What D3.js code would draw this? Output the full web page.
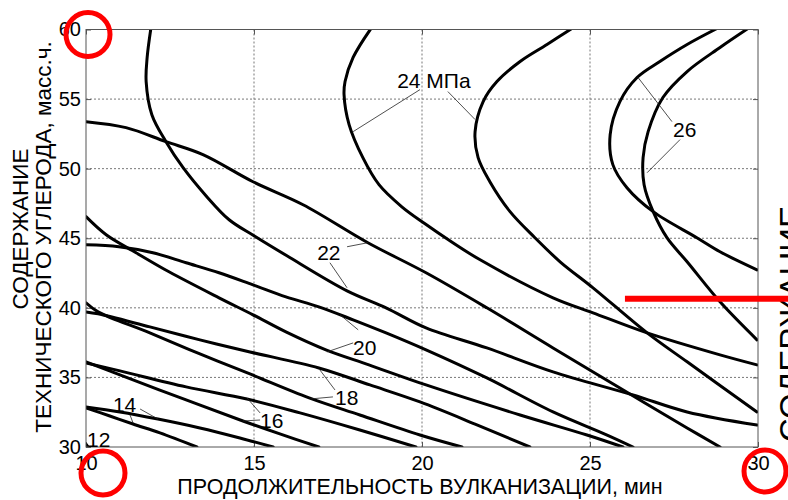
<!DOCTYPE html>
<html><head><meta charset="utf-8">
<script src="https://cdn.jsdelivr.net/npm/d3@7"></script>
<style>
html,body{margin:0;padding:0;background:#fff;}
svg{display:block;font-family:"Liberation Sans",Arial,sans-serif;}
</style></head><body>
<svg id="chart" width="788" height="500"></svg>
<script>
// axes
const xTicks = [10, 15, 20, 25, 30];
const yTicks = [30, 35, 40, 45, 50, 55, 60];
const xTitle = "ПРОДОЛЖИТЕЛЬНОСТЬ ВУЛКАНИЗАЦИИ, мин";
const yTitle = ["СОДЕРЖАНИЕ", "ТЕХНИЧЕСКОГО УГЛЕРОДА, масс.ч."];
const sideTitle = "СОДЕРЖАНИЕ";

// isolines of tensile strength, MPa: [time, carbon black]
const iso26a = [[28.78,60.07],[27.89,58.92],[27.08,57.70],[26.40,56.55],[25.89,54.82],[25.60,52.45],[25.68,50.29],[26.10,48.63],[26.88,46.91],[28.18,45.04],[28.87,44.03],[29.97,42.73]];
const iso26b = [[29.70,60.07],[28.87,58.71],[27.89,56.98],[27.17,55.11],[26.73,52.66],[26.58,50.79],[26.61,48.85],[26.88,46.91],[27.29,45.04],[27.89,43.31],[28.87,40.43],[29.97,37.70]];
const iso24a = [[18.48,60.07],[17.95,57.99],[17.71,56.26],[17.68,55.32],[17.83,53.17],[18.24,50.79],[18.72,48.85],[19.40,47.26],[20.09,46.04],[20.83,44.82],[21.73,43.45],[23.90,40.72],[25.09,39.64],[26.70,38.20],[28.87,36.62],[29.97,35.90]];
const iso24b = [[24.46,60.07],[23.72,58.92],[22.92,57.70],[22.23,56.26],[21.82,54.82],[21.58,52.66],[21.67,50.79],[22.02,49.06],[22.62,46.91],[23.36,45.04],[24.11,43.31],[25.09,41.44],[26.70,38.20],[27.89,36.12],[29.97,32.52]];
const iso22a = [[11.93,60.07],[11.82,57.99],[11.79,56.26],[11.96,53.88],[12.38,51.94],[12.89,50.07],[13.57,48.06],[14.26,46.33],[15.00,45.18],[15.98,43.74],[17.77,41.22],[18.93,40.00],[20.12,38.56],[21.93,37.12],[23.90,35.40],[26.28,33.74],[27.89,32.52],[29.97,31.58]];
const iso22b = [[10.00,53.38],[11.19,52.95],[12.38,51.94],[13.48,51.01],[14.97,49.06],[16.46,47.41],[18.39,44.68],[20.12,42.52],[21.93,40.00],[23.90,37.12],[25.89,34.24],[27.89,31.37],[28.87,30.00]];
const iso20a = [[10.00,44.53],[10.98,44.39],[11.99,43.96],[12.98,43.24],[13.96,42.52],[14.97,41.65],[15.95,40.79],[16.93,40.07],[17.95,39.14],[18.93,38.20],[20.12,36.98],[21.93,34.96],[23.90,32.52],[25.51,30.86],[26.28,30.00]];
const iso20b = [[10.00,46.55],[10.60,45.25],[11.49,43.96],[12.47,42.59],[13.96,40.72],[14.97,39.50],[15.95,38.27],[17.14,36.98],[18.42,35.90],[20.12,34.46],[22.92,32.30],[24.91,30.86],[25.98,30.00]];
const iso18a = [[10.00,39.71],[10.36,39.57],[11.90,38.63],[13.39,37.70],[14.88,36.83],[16.93,35.68],[18.45,34.46],[19.94,33.24],[21.58,31.65],[23.21,30.00]];
const iso18b = [[10.00,40.36],[10.36,39.71],[11.90,38.20],[13.39,36.69],[14.88,35.25],[16.64,33.53],[18.15,32.30],[19.94,30.86],[21.19,30.00]];
const iso16a = [[10.00,36.04],[11.01,35.47],[12.98,34.32],[14.79,33.45],[16.37,32.45],[18.15,31.22],[19.82,30.00]];
const iso16b = [[10.00,36.12],[11.01,35.18],[12.98,33.38],[14.67,31.87],[15.77,30.94],[16.93,30.00]];
const iso14a = [[10.00,32.88],[11.01,32.52],[12.14,32.01],[13.39,31.37],[14.58,30.65],[15.57,30.00]];
const iso14b = [[10.00,32.81],[10.71,32.23],[11.40,31.65],[12.20,31.01],[13.30,30.00]];
const iso12  = [[10.00,30.20],[10.06,30.00]];

const isolines = [
  {level: 26, pts: iso26a}, {level: 26, pts: iso26b},
  {level: 24, pts: iso24a}, {level: 24, pts: iso24b},
  {level: 22, pts: iso22a}, {level: 22, pts: iso22b},
  {level: 20, pts: iso20a}, {level: 20, pts: iso20b},
  {level: 18, pts: iso18a}, {level: 18, pts: iso18b},
  {level: 16, pts: iso16a}, {level: 16, pts: iso16b},
  {level: 14, pts: iso14a}, {level: 14, pts: iso14b},
  {level: 12, pts: iso12}
];

// level labels: text anchor and leader segments, in data units
const levelLabels = [
  {level: 24, unit: " МПа", at: [19.26, 55.83], leaders: [[[19.94,55.68],[17.95,52.66]], [[20.77,55.54],[21.58,53.53]]]},
  {level: 26, unit: "", at: [27.47, 52.30], leaders: [[[27.44,53.38],[26.43,56.55]], [[27.68,52.09],[26.70,49.71]]]},
  {level: 22, unit: "", at: [16.88, 43.45], leaders: [[[17.77,44.39],[18.39,44.68]], [[17.26,43.24],[17.77,41.44]]]},
  {level: 20, unit: "", at: [17.95, 36.62], leaders: [[[17.95,37.48],[17.17,36.83]], [[18.10,38.42],[17.56,39.50]]]},
  {level: 18, unit: "", at: [17.41, 33.02], leaders: [[[17.35,33.60],[16.67,33.45]], [[17.41,34.10],[16.96,35.54]]]},
  {level: 16, unit: "", at: [15.18, 31.37], leaders: [[[15.18,31.94],[14.67,31.87]], [[15.18,32.45],[14.79,33.53]]]},
  {level: 14, unit: "", at: [10.80, 32.52], leaders: [[[11.61,32.73],[12.14,32.01]], [[11.31,32.30],[11.40,31.73]]]},
  {level: 12, unit: "", at: [10.03, 30.00], leaders: []}
];

const W = 788, H = 500;
const plot = {left: 86, right: 758, top: 29.5, bottom: 447};
const svg = d3.select("#chart");

const x = d3.scaleLinear().domain([10, 30]).range([plot.left, plot.right]);
const y = d3.scaleLinear().domain([30, 60]).range([plot.bottom, plot.top]);

svg.append("rect").attr("width", W).attr("height", H).attr("fill", "#fff");

// grid
const grid = svg.append("g").attr("stroke", "#777").attr("stroke-width", 1).attr("stroke-dasharray", "2,2");
xTicks.slice(1, -1).forEach(t => grid.append("line")
  .attr("x1", x(t)).attr("x2", x(t)).attr("y1", plot.top).attr("y2", plot.bottom));
yTicks.slice(1, -1).forEach(t => grid.append("line")
  .attr("x1", plot.left).attr("x2", plot.right).attr("y1", y(t)).attr("y2", y(t)));

// axes with inward ticks
const axisB = d3.axisBottom(x).tickValues(xTicks).tickSizeInner(-5).tickSizeOuter(0).tickPadding(9);
const axisL = d3.axisLeft(y).tickValues(yTicks).tickSizeInner(-5).tickSizeOuter(0).tickPadding(5);
const axisT = d3.axisTop(x).tickValues(xTicks).tickSizeInner(-5).tickSizeOuter(0).tickFormat("");
const axisR = d3.axisRight(y).tickValues(yTicks).tickSizeInner(-5).tickSizeOuter(0).tickFormat("");

function styleAxis(g) {
  g.select(".domain").remove();
  g.selectAll(".tick line").attr("stroke", "#555");
  g.selectAll(".tick text").attr("fill", "#000").style("font-size", "20px")
    .style("font-family", '"Liberation Sans", Arial, sans-serif');
}
svg.append("g").attr("transform", `translate(0,${plot.bottom})`).call(axisB).call(styleAxis);
svg.append("g").attr("transform", `translate(${plot.left},0)`).call(axisL).call(styleAxis);
svg.append("g").attr("transform", `translate(0,${plot.top})`).call(axisT).call(styleAxis);
svg.append("g").attr("transform", `translate(${plot.right},0)`).call(axisR).call(styleAxis);

// isolines
svg.append("defs").append("clipPath").attr("id", "plotClip").append("rect")
  .attr("x", plot.left).attr("y", plot.top)
  .attr("width", plot.right - plot.left).attr("height", plot.bottom - plot.top);

const line = d3.line().x(d => x(d[0])).y(d => y(d[1])).curve(d3.curveCatmullRom.alpha(0.5));
svg.append("g").attr("clip-path", "url(#plotClip)")
  .selectAll("path").data(isolines).join("path")
  .attr("d", d => line(d.pts))
  .attr("fill", "none").attr("stroke", "#000").attr("stroke-width", 3)
  .attr("stroke-linecap", "round").attr("stroke-linejoin", "round");

// frame
svg.append("rect").attr("x", plot.left).attr("y", plot.top)
  .attr("width", plot.right - plot.left).attr("height", plot.bottom - plot.top)
  .attr("fill", "none").attr("stroke", "#555").attr("stroke-width", 1);

// level labels with leaders
const lab = svg.append("g");
levelLabels.forEach(l => {
  l.leaders.forEach(s => lab.append("line")
    .attr("x1", x(s[0][0])).attr("y1", y(s[0][1]))
    .attr("x2", x(s[1][0])).attr("y2", y(s[1][1]))
    .attr("stroke", "#222").attr("stroke-width", 0.8));
  lab.append("text").attr("x", x(l.at[0])).attr("y", y(l.at[1]))
    .style("font-size", "21px").attr("fill", "#000").text(l.level + l.unit);
});

// axis titles
svg.append("text").attr("x", (plot.left + plot.right) / 2 - 2).attr("y", 494)
  .attr("text-anchor", "middle").style("font-size", "21.5px").text(xTitle);
svg.append("text").attr("transform", "translate(28,229) rotate(-90)")
  .attr("text-anchor", "middle").style("font-size", "22.5px").text(yTitle[0]);
svg.append("text").attr("transform", "translate(51,237) rotate(-90)")
  .attr("text-anchor", "middle").style("font-size", "22.5px").text(yTitle[1]);
svg.append("text").attr("transform", "translate(803,324) rotate(-90)")
  .attr("text-anchor", "middle").style("font-size", "33px").text(sideTitle);

// red markup
const red = svg.append("g").attr("fill", "none").attr("stroke", "#ff0000").attr("stroke-width", 5);
red.append("circle").attr("cx", x(10) + 2).attr("cy", y(60) + 5).attr("r", 22);
red.append("circle").attr("cx", x(10) + 17).attr("cy", y(30) + 26).attr("r", 22);
red.append("circle").attr("cx", x(30) + 7).attr("cy", y(30) + 24).attr("r", 21);
svg.append("line").attr("x1", x(26.04)).attr("x2", W).attr("y1", y(40.65)).attr("y2", y(40.65))
  .attr("stroke", "#ff0000").attr("stroke-width", 6);
</script>
</body></html>
